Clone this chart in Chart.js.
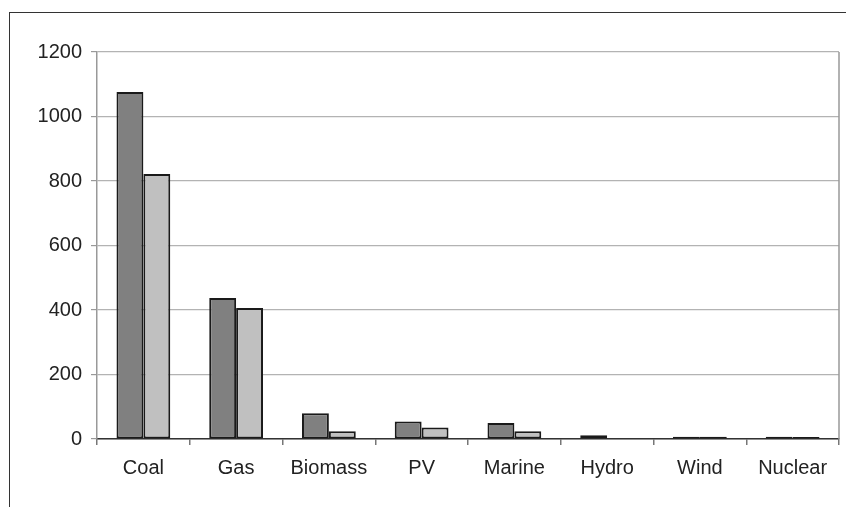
<!DOCTYPE html>
<html>
<head>
<meta charset="utf-8">
<script src="https://cdn.jsdelivr.net/npm/chart.js@4/dist/chart.umd.min.js"></script>
<style>
 html, body { margin: 0; padding: 0; background: #fff; overflow: hidden; }
 #wrap { position: relative; width: 846px; height: 507px; }
 #frame { position: absolute; left: 9px; top: 12px; width: 900px; height: 600px; border-top: 1.5px solid #333; border-left: 1.5px solid #333; }
 canvas { position: absolute; left: 0; top: 0; }
</style>
</head>
<body>
<div id="wrap">
 <div id="frame"></div>
 <canvas id="chart" width="846" height="507"></canvas>
</div>
<script>
var categories = ['Coal', 'Gas', 'Biomass', 'PV', 'Marine', 'Hydro', 'Wind', 'Nuclear'];
var seriesDark = [1076, 437, 80, 54, 50, 12, 7, 7];
var seriesLight = [822, 406, 24, 36, 24, 0, 7, 6];
var yTicks = [0, 200, 400, 600, 800, 1000, 1200];

// draws the right edge of the plot area, like the old office chart
var rightEdge = {
 id: 'rightEdge',
 afterDraw: function(chart) {
  var a = chart.chartArea;
  var ctx = chart.ctx;
  ctx.save();
  ctx.strokeStyle = '#999';
  ctx.lineWidth = 1.5;
  ctx.beginPath();
  ctx.moveTo(a.right, a.top);
  ctx.lineTo(a.right, a.bottom);
  ctx.stroke();
  ctx.restore();
 }
};

var ctx = document.getElementById('chart').getContext('2d');
new Chart(ctx, {
 type: 'bar',
 data: {
  labels: categories,
  datasets: [{
   data: seriesDark,
   backgroundColor: '#808080',
   borderColor: '#1a1a1a',
   borderWidth: 2,
   borderSkipped: false
  }, {
   data: seriesLight,
   backgroundColor: '#c0c0c0',
   borderColor: '#1a1a1a',
   borderWidth: 2,
   borderSkipped: false
  }]
 },
 options: {
  responsive: false,
  animation: false,
  layout: { padding: { left: 0, top: 52, right: 7, bottom: 0 } },
  plugins: { legend: { display: false }, tooltip: { enabled: false } },
  datasets: { bar: { categoryPercentage: 0.58, barPercentage: 1 } },
  scales: {
   x: {
    afterFit: function(s) { s.height = 68; },
    grid: { drawOnChartArea: false, drawTicks: true, tickLength: 6, color: '#777', lineWidth: 1.5 },
    border: { display: true, color: '#333', width: 1.5 },
    ticks: { color: '#222', font: { family: 'Liberation Sans', size: 20 }, padding: 11 }
   },
   y: {
    min: 0,
    max: 1200,
    afterFit: function(s) { s.width = 97; },
    afterBuildTicks: function(s) { s.ticks = yTicks.map(function(v) { return { value: v }; }); },
    grid: { color: '#b3b3b3', lineWidth: 1.2, tickLength: 6, drawTicks: true, tickColor: '#999' },
    border: { display: true, color: '#999', width: 1.5 },
    ticks: {
     color: '#222',
     font: { family: 'Liberation Sans', size: 20 },
     padding: 9,
     callback: function(v) { return String(v); }
    }
   }
  }
 },
 plugins: [rightEdge]
});
</script>
</body>
</html>
